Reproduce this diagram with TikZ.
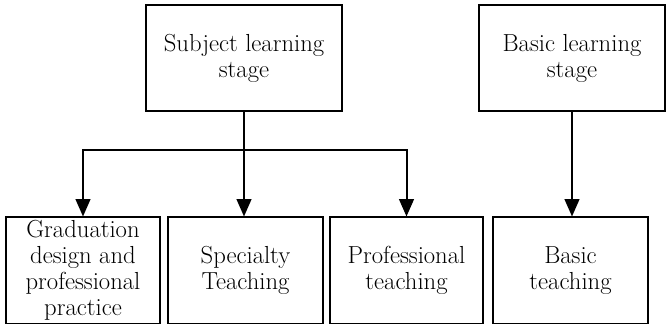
\documentclass[tikz,border=0pt]{standalone}
\usetikzlibrary{arrows.meta}

\tikzset{
  stagebox/.style={draw,line width=1.5pt,inner sep=0.75pt,align=center,
    font=\fontsize{18.5}{19.5}\selectfont},
  flow/.style={line width=1.5pt,-{Triangle[length=13pt,width=11pt]}}
}

\begin{document}
\begin{tikzpicture}[x=0.75pt,y=0.75pt,yscale=-1,xscale=1]

\useasboundingbox (0,0) rectangle (668,324);

% upper stages
\node (subj) [stagebox,minimum width=147pt,minimum height=79pt] at (244,58) {Subject learning\\stage};
\node (basic) [stagebox,minimum width=140pt,minimum height=79pt] at (572,58) {Basic learning\\stage};

% teaching blocks
\node (grad) [stagebox,minimum width=116pt,minimum height=79.5pt] at (83,270.5) {Graduation\\design and\\professional\\practice};
\node (spec) [stagebox,minimum width=116pt,minimum height=79.5pt] at (245.5,270.5) {Specialty\\Teaching};
\node (prof) [stagebox,minimum width=115pt,minimum height=79.5pt] at (406.5,270.5) {Professional\\teaching};
\node (basict) [stagebox,minimum width=116pt,minimum height=79.5pt] at (570.5,270.5) {Basic\\teaching};

\coordinate (split) at (244,150);

\draw [line width=1.5pt] (subj.south) -- (split);
\draw [flow] (split) -| (grad.north);
\draw [flow] (split) -| (prof.north);
\draw [flow] (split) -- (split |- spec.north);

\draw [flow] (basic.south) -- (basic.south |- basict.north);

\end{tikzpicture}
\end{document}
